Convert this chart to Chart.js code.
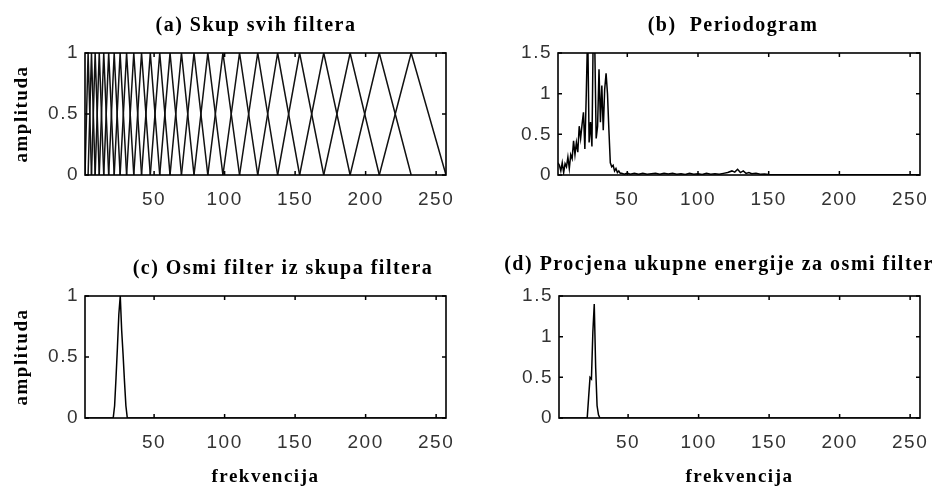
<!DOCTYPE html>
<html><head><meta charset="utf-8">
<script src="https://cdn.jsdelivr.net/npm/chart.js@4.4.1/dist/chart.umd.min.js"></script>
<style>
html,body{margin:0;padding:0;background:#fff;width:936px;height:488px;overflow:hidden;position:relative}
canvas{position:absolute}
</style></head><body>
<canvas id="ca" width="512" height="244" style="left:0;top:0"></canvas>
<canvas id="cb" width="506" height="244" style="left:480px;top:0"></canvas>
<canvas id="cc" width="566" height="244" style="left:0;top:244px"></canvas>
<canvas id="cd" width="478" height="244" style="left:480px;top:244px"></canvas>
<script>
// ---- data ----
const xTicks = [50, 100, 150, 200, 250];
const yTicksA = [0, 0.5, 1];
const yTicksB = [0, 0.5, 1, 1.5];
// filter-bank band edges / centres (frequency bins)
const filterEdges = [1, 3.2, 5.6, 8.2, 11.1, 14.3, 17.8, 21.7, 25.9, 30.5, 35.6, 41.1, 47.3, 54.0, 61.3, 69.4, 78.3, 88.1, 98.8, 110.6, 123.5, 137.6, 153.2, 170.3, 189.0, 209.7, 232.3, 257];
// periodogram
const periodogramBins = [1,2,3,4,5,6,7,8,9,10,11,12,13,14,15,16,17,18,19,20,21,22,23,24,25,26,27,28,29,30,31,32,33,34,35,36,37,38,39,40,41,42,43,44,45,
  46,48,50,52,55,58,61,64,67,70,73,76,79,82,85,88,91,94,97,100,103,106,109,112,115,118,121,124,126,128,130,132,134,136,138,141,144,147,150,160,180,200,220,240,257];
const periodogramValues = [0.15,0.12,0.05,0.15,0.03,0.14,0.1,0.22,0.08,0.25,0.2,0.42,0.25,0.4,0.28,0.6,0.45,0.62,0.77,0.32,1.0,1.8,0.4,0.65,0.35,1.9,1.6,0.45,0.6,1.3,0.65,1.1,0.55,1.05,1.25,1.0,0.55,0.15,0.1,0.12,0.05,0.08,0.03,0.05,0.02,
  0.02,0.01,0.025,0.01,0.02,0.008,0.02,0.01,0.015,0.02,0.008,0.02,0.012,0.02,0.01,0.015,0.005,0.02,0.01,0.015,0.005,0.02,0.01,0.015,0.008,0.02,0.03,0.05,0.035,0.07,0.03,0.05,0.02,0.03,0.015,0.02,0.01,0.012,0.005,0.004,0.004,0.003,0.004,0.003,0.003];
// eighth filter
const filter8Bins = [1, 21, 22, 23, 24, 25, 26, 27, 28, 29, 30, 31, 257];
const filter8Values = [0, 0, 0.1, 0.33, 0.58, 0.85, 1.0, 0.72, 0.52, 0.3, 0.1, 0, 0];
// energy estimate for the eighth filter
const energyBins = [1, 21, 22, 23, 24, 25, 26, 27, 28, 29, 30, 257];
const energyValues = [0, 0, 0.25, 0.5, 0.48, 1.05, 1.4, 0.62, 0.15, 0.04, 0, 0];

const titles = ['(a) Skup svih filtera', '(b)  Periodogram', '(c) Osmi filter iz skupa filtera', '(d) Procjena ukupne energije za osmi filter'];
const yLabel = 'amplituda';
const xLabel = 'frekvencija';

// ---- helpers ----
const pts = (xs, ys) => xs.map((x, i) => ({x: x, y: ys[i]}));
const SERIF = "'Liberation Serif', 'Times New Roman', serif";
const SANS = "'Liberation Sans', Arial, sans-serif";

const spacing = {
  id: 'spacing',
  beforeDraw(chart) { chart.ctx.letterSpacing = '1.5px'; }
};
const boxPlugin = {
  id: 'matlabBox',
  afterDatasetsDraw(chart) {
    const {ctx, chartArea: a, scales} = chart;
    ctx.save();
    ctx.strokeStyle = '#000';
    ctx.lineWidth = 1.6;
    ctx.strokeRect(a.left, a.top, a.right - a.left, a.bottom - a.top);
    ctx.lineWidth = 1.5;
    ctx.beginPath();
    const L = 4;
    scales.x.ticks.forEach(t => {
      const px = scales.x.getPixelForValue(t.value);
      ctx.moveTo(px, a.bottom); ctx.lineTo(px, a.bottom - L);
      ctx.moveTo(px, a.top); ctx.lineTo(px, a.top + L);
    });
    scales.y.ticks.forEach(t => {
      const py = scales.y.getPixelForValue(t.value);
      ctx.moveTo(a.left, py); ctx.lineTo(a.left + L, py);
      ctx.moveTo(a.right, py); ctx.lineTo(a.right - L, py);
    });
    ctx.stroke();
    ctx.restore();
  }
};

function makeChart(id, cfg) {
  const xScale = {
    type: 'linear', min: 1, max: 257, position: 'bottom',
    afterBuildTicks: ax => { ax.ticks = xTicks.map(v => ({value: v})); },
    afterFit: ax => { ax.height = cfg.xH; },
    grid: {display: false, drawTicks: false},
    border: {display: false},
    ticks: {color: '#333', font: {family: SANS, size: 19}, padding: 13, maxRotation: 0, autoSkip: false},
    title: {display: !!cfg.xTitle, text: xLabel, color: '#000', font: {family: SERIF, size: 19, weight: 'bold'}, padding: {top: 0, bottom: 0}}
  };
  const yScale = {
    type: 'linear', min: 0, max: cfg.yMax, position: 'left',
    afterBuildTicks: ax => { ax.ticks = cfg.yTicks.map(v => ({value: v})); },
    afterFit: ax => { ax.width = cfg.yW; },
    grid: {display: false, drawTicks: false},
    border: {display: false},
    ticks: {color: '#333', font: {family: SANS, size: 19}, padding: 6, callback: v => String(v)},
    title: {display: !!cfg.yTitle, text: yLabel, color: '#000', font: {family: SERIF, size: 19, weight: 'bold'}, padding: {top: 11, bottom: 0}}
  };
  const rScale = {
    type: 'linear', position: 'right', display: true,
    afterFit: ax => { ax.width = cfg.rW; },
    grid: {display: false, drawTicks: false}, border: {display: false},
    ticks: {display: false}
  };
  return new Chart(document.getElementById(id), {
    type: 'line',
    data: {datasets: cfg.datasets},
    options: {
      responsive: false, animation: false, devicePixelRatio: 1,
      layout: {padding: 0},
      elements: {point: {radius: 0}, line: {tension: 0}},
      scales: {x: xScale, y: yScale, yr: rScale},
      plugins: {
        legend: {display: false}, tooltip: {enabled: false},
        title: {display: true, text: cfg.title, color: '#000', font: {family: SERIF, size: 20, weight: 'bold'}, padding: cfg.tPad}
      }
    },
    plugins: [spacing, boxPlugin]
  });
}

// (a) all filters: each triangle from its three band edges
const filterSets = [];
for (let k = 1; k < filterEdges.length - 1; k++) {
  filterSets.push({
    data: [{x: filterEdges[k - 1], y: 0}, {x: filterEdges[k], y: 1}, {x: filterEdges[k + 1], y: 0}],
    borderColor: '#111', borderWidth: 1.5, fill: false
  });
}
makeChart('ca', {title: titles[0], tPad: {top: 14, bottom: 15}, xH: 69, yW: 85, rW: 66, yMax: 1, yTicks: yTicksA, yTitle: true, xTitle: false, datasets: filterSets});
makeChart('cb', {title: titles[1], tPad: {top: 14, bottom: 15}, xH: 69, yW: 78, rW: 66, yMax: 1.5, yTicks: yTicksB, yTitle: false, xTitle: false,
  datasets: [{data: pts(periodogramBins, periodogramValues), borderColor: '#000', borderWidth: 1.5, fill: false}]});
makeChart('cc', {title: titles[2], tPad: {top: 13, bottom: 15}, xH: 70, yW: 85, rW: 120, yMax: 1, yTicks: yTicksA, yTitle: true, xTitle: true,
  datasets: [{data: pts(filter8Bins, filter8Values), borderColor: '#000', borderWidth: 1.5, fill: false}]});
makeChart('cd', {title: titles[3], tPad: {top: 9, bottom: 19}, xH: 70, yW: 79, rW: 38, yMax: 1.5, yTicks: yTicksB, yTitle: false, xTitle: true,
  datasets: [{data: pts(energyBins, energyValues), borderColor: '#000', borderWidth: 1.5, fill: false}]});
</script>
</body></html>
